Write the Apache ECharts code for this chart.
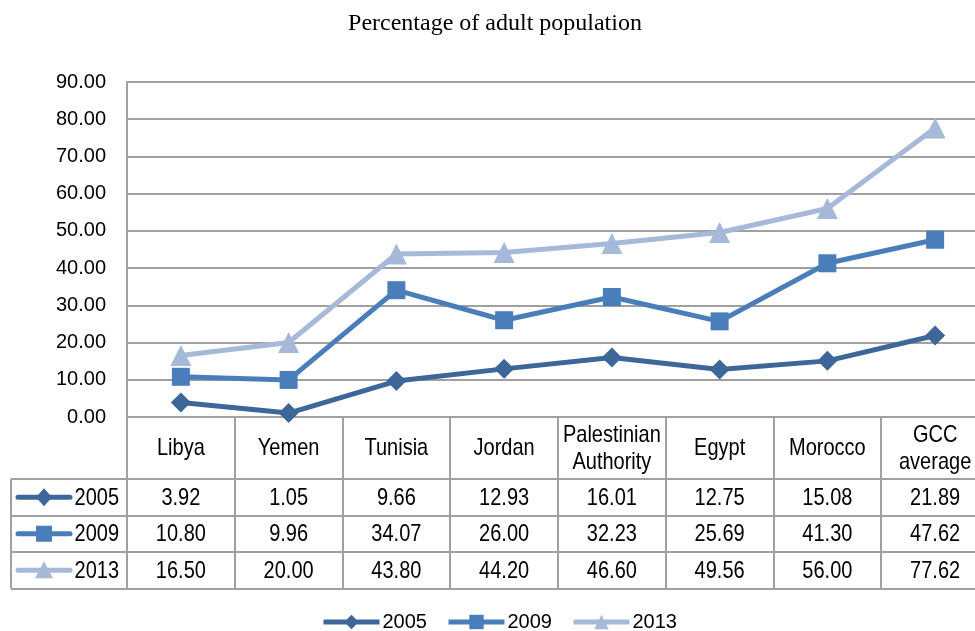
<!DOCTYPE html>
<html>
<head>
<meta charset="utf-8">
<script src="https://cdn.jsdelivr.net/npm/echarts@6/dist/echarts.min.js"></script>
<style>
  html, body { margin: 0; padding: 0; background: #fff; }
  #chart { width: 975px; height: 631px; }
</style>
</head>
<body>
<div id="chart"></div>
<script>
// Country groups along the horizontal axis
const categories = ['Libya', 'Yemen', 'Tunisia', 'Jordan', 'Palestinian\nAuthority', 'Egypt', 'Morocco', 'GCC\naverage'];
// Survey years
const years = ['2005', '2009', '2013'];
// Percentage of adult population, per year
const values2005 = [3.92, 1.05, 9.66, 12.93, 16.01, 12.75, 15.08, 21.89];
const values2009 = [10.80, 9.96, 34.07, 26.00, 32.23, 25.69, 41.30, 47.62];
const values2013 = [16.50, 20.00, 43.80, 44.20, 46.60, 49.56, 56.00, 77.62];
// Value axis ticks
const yMin = 0, yMax = 90, yStep = 10;

const seriesValues = [values2005, values2009, values2013];
const colors = ['#3d6699', '#4a7ebb', '#a6b9d9'];
const symbols = ['diamond', 'rect', 'triangle'];
const symbolSizes = [20, 18, 21];

const FONT = '"Liberation Sans", Arial, sans-serif';
const FS = 20;
const TALL = 1.17;   // condensed-looking type: stretch table text vertically
const LINE_GRAY = '#a0a0a0';

const chart = echarts.init(document.getElementById('chart'), null, { renderer: 'canvas' });

const grid = { left: 127, top: 82, width: 862, height: 335, outerBoundsMode: 'none', containLabel: false };

chart.setOption({
  animation: false,
  title: {
    text: 'Percentage of adult population',
    left: 490, top: 7, textAlign: 'center',
    textStyle: { fontFamily: '"Liberation Serif", "Times New Roman", serif', fontSize: 24, fontWeight: 'normal', color: '#000' }
  },
  grid: grid,
  legend: {
    top: 607, left: 316,
    itemWidth: 56, itemHeight: 18, itemGap: 19,
    lineStyle: { width: 5 },
    textStyle: { fontFamily: FONT, fontSize: FS, color: '#000', padding: [0, 0, 0, -2] },
    data: years
  },
  xAxis: {
    type: 'category', data: categories, boundaryGap: true,
    axisLine: { show: false }, axisTick: { show: false }, axisLabel: { show: false },
    splitLine: { show: false }
  },
  yAxis: {
    type: 'value', min: yMin, max: yMax, interval: yStep,
    axisLine: { show: true, lineStyle: { color: LINE_GRAY, width: 2 } },
    axisTick: { show: false },
    axisLabel: { fontFamily: FONT, fontSize: FS, color: '#000', margin: 21, formatter: v => v.toFixed(2) },
    splitLine: { show: true, lineStyle: { color: LINE_GRAY, width: 2 } }
  },
  series: years.map((y, i) => ({
    name: y, type: 'line', data: seriesValues[i],
    symbol: symbols[i], symbolSize: symbolSizes[i],
    lineStyle: { color: colors[i], width: 5 },
    itemStyle: { color: colors[i] },
    z: 3 - i
  }))
});

// Data table under the plot, laid out from the axis scale
function buildTable() {
  const els = [];
  const y0 = chart.convertToPixel({ yAxisIndex: 0 }, 0);
  const colW = grid.width / categories.length;
  const headerBottom = y0 + 62;
  const rowH = 36.5;
  const tableBottom = headerBottom + rowH * years.length;
  const left = grid.left;
  const right = grid.left + grid.width;
  const keyLeft = 11;
  const lineStyle = { stroke: LINE_GRAY, lineWidth: 2 };
  const textEl = (x, y, text, align) => ({
    type: 'text', x: x, y: y, scaleY: TALL, silent: true,
    style: { text: text, align: align, verticalAlign: 'middle', fontFamily: FONT, fontSize: FS, lineHeight: 23, fill: '#000' }
  });

  // vertical cell borders
  for (let i = 0; i <= categories.length; i++) {
    const x = Math.round(left + i * colW);
    els.push({ type: 'line', shape: { x1: x, y1: y0, x2: x, y2: tableBottom }, style: lineStyle, silent: true });
  }
  els.push({ type: 'line', shape: { x1: keyLeft, y1: headerBottom, x2: keyLeft, y2: tableBottom }, style: lineStyle, silent: true });
  // horizontal row borders
  for (let r = 0; r <= years.length; r++) {
    const y = Math.round(headerBottom + r * rowH);
    els.push({ type: 'line', shape: { x1: keyLeft, y1: y, x2: right, y2: y }, style: lineStyle, silent: true });
  }
  // header labels
  categories.forEach((c, i) => {
    const cx = chart.convertToPixel({ xAxisIndex: 0 }, i);
    els.push(textEl(cx, (y0 + headerBottom) / 2 + 1, c, 'center'));
  });
  // value rows with legend keys
  years.forEach((yr, r) => {
    const cy = headerBottom + rowH * (r + 0.5);
    const col = colors[r];
    els.push({ type: 'line', shape: { x1: 18, y1: cy, x2: 70, y2: cy }, style: { stroke: col, lineWidth: 5, lineCap: 'round' }, silent: true });
    const mx = 44;
    if (symbols[r] === 'diamond') {
      els.push({ type: 'polygon', shape: { points: [[mx, cy - 9], [mx + 8, cy], [mx, cy + 9], [mx - 8, cy]] }, style: { fill: col }, silent: true });
    } else if (symbols[r] === 'rect') {
      els.push({ type: 'rect', shape: { x: mx - 8, y: cy - 8, width: 16, height: 16 }, style: { fill: col }, silent: true });
    } else {
      els.push({ type: 'polygon', shape: { points: [[mx, cy - 9], [mx + 9, cy + 8], [mx - 9, cy + 8]] }, style: { fill: col }, silent: true });
    }
    els.push(textEl(119, cy + 1, yr, 'right'));
    seriesValues[r].forEach((v, i) => {
      const cx = chart.convertToPixel({ xAxisIndex: 0 }, i);
      els.push(textEl(cx, cy + 1, v.toFixed(2), 'center'));
    });
  });
  chart.setOption({ graphic: { elements: els } });
}
buildTable();
</script>
</body>
</html>
